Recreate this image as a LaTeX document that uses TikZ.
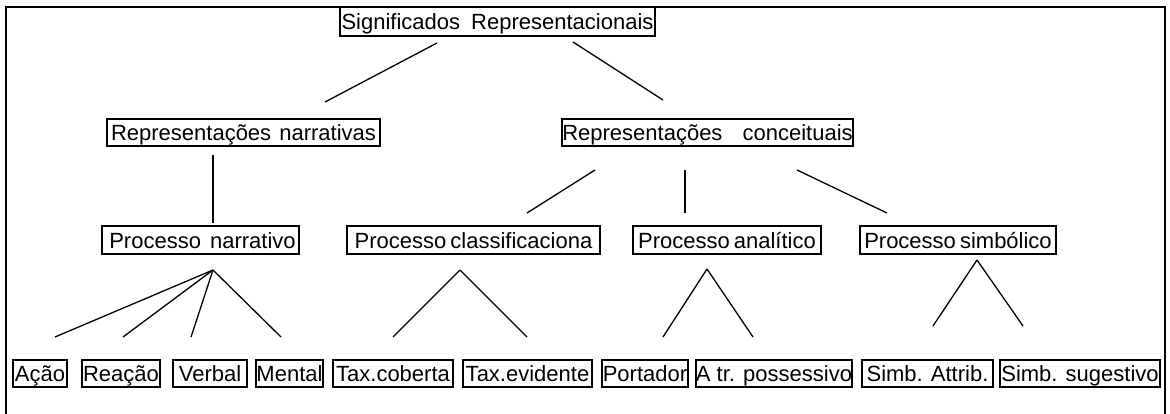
\documentclass[tikz,border=0pt]{standalone}
\usepackage{fontspec}
\setmainfont{Liberation Sans}
\begin{document}
\begin{tikzpicture}[x=1pt,y=-1pt,
  bx/.style={draw=black,line width=1.8pt,inner xsep=0pt,inner ysep=0pt,
    text height=16.5pt,text depth=0pt,minimum height=27pt,
    font=\fontsize{22}{26}\selectfont},
  ln/.style={line width=1.3pt},
  frame/.style={draw=black,line width=1.8pt}]
\useasboundingbox (0,0) rectangle (1170,414);
\draw[frame] (6,7) rectangle (1165,418);
% level 0
\node[bx,minimum width=315pt,minimum height=29pt] (top) at (497.5,21.5) {Significados\hspace{5pt} Representacionais};
% level 1
\node[bx,minimum width=273pt] (narr) at (243.5,132.5) {Representações\hspace{2pt} narrativas};
\node[bx,minimum width=289pt] (conc) at (707.5,132.5) {Representações\hspace{14pt} conceituais};
% level 2
\node[bx,minimum width=197pt,minimum height=28pt] (pnarr) at (200.5,240) {\hspace{4pt}Processo\hspace{3pt} narrativo};
\node[bx,minimum width=253pt,minimum height=28pt] (pclass) at (473.5,240) {Processo\hspace{-2pt} classificaciona\hspace{8pt}};
\node[bx,minimum width=188pt,minimum height=28pt] (panal) at (727,240) {Processo\hspace{-2pt} analítico};
\node[bx,minimum width=196pt,minimum height=28pt] (psimb) at (958,240) {Processo\hspace{-2pt} simbólico};
% level 3
\node[bx,minimum width=54pt] (acao) at (40,373.5) {Ação};
\node[bx,minimum width=78pt] (reac) at (121,373.5) {Reação};
\node[bx,minimum width=74pt] (verb) at (210,373.5) {Verbal};
\node[bx,minimum width=67pt] (ment) at (289.5,373.5) {Mental};
\node[bx,minimum width=120pt] (taxc) at (393,373.5) {Tax.coberta};
\node[bx,minimum width=129pt] (taxe) at (527.5,373.5) {Tax.evidente};
\node[bx,minimum width=86pt] (port) at (645,373.5) {Portador};
\node[bx,minimum width=156pt] (atr) at (774,373.5) {A tr. possessivo};
\node[bx,minimum width=131pt] (sattr) at (927.5,373.5) {Simb. Attrib.};
\node[bx,minimum width=160pt] (ssug) at (1080,373.5) {Simb. sugestivo};
% connector end points
\coordinate (t1) at (437,43);  \coordinate (n1) at (325,102);
\coordinate (t2) at (573,42);  \coordinate (c1) at (663,100);
\coordinate (n2) at (213,155); \coordinate (pn1) at (213,223);
\coordinate (c2) at (595,170); \coordinate (pc1) at (527,213);
\coordinate (c3) at (685,170); \coordinate (pa1) at (685,213);
\coordinate (c4) at (797,170); \coordinate (ps1) at (887,213);
\coordinate (pn2) at (213,270);
\coordinate (e1) at (55,337); \coordinate (e2) at (123,337);
\coordinate (e3) at (191,337); \coordinate (e4) at (281,337);
\coordinate (pc2) at (460,270);
\coordinate (e5) at (393,337); \coordinate (e6) at (527,337);
\coordinate (pa2) at (707,269);
\coordinate (e7) at (663,337); \coordinate (e8) at (753,337);
\coordinate (ps2) at (977,260);
\coordinate (e9) at (933,326); \coordinate (e10) at (1023,326);
\draw[ln] (t1) -- (n1);
\draw[ln] (t2) -- (c1);
\draw[ln] (n2) -- (pn1);
\draw[ln] (c2) -- (pc1);
\draw[ln] (c3) -- (pa1);
\draw[ln] (c4) -- (ps1);
\draw[ln] (pn2) -- (e1);
\draw[ln] (pn2) -- (e2);
\draw[ln] (pn2) -- (e3);
\draw[ln] (pn2) -- (e4);
\draw[ln] (pc2) -- (e5);
\draw[ln] (pc2) -- (e6);
\draw[ln] (pa2) -- (e7);
\draw[ln] (pa2) -- (e8);
\draw[ln] (ps2) -- (e9);
\draw[ln] (ps2) -- (e10);
\end{tikzpicture}
\end{document}
